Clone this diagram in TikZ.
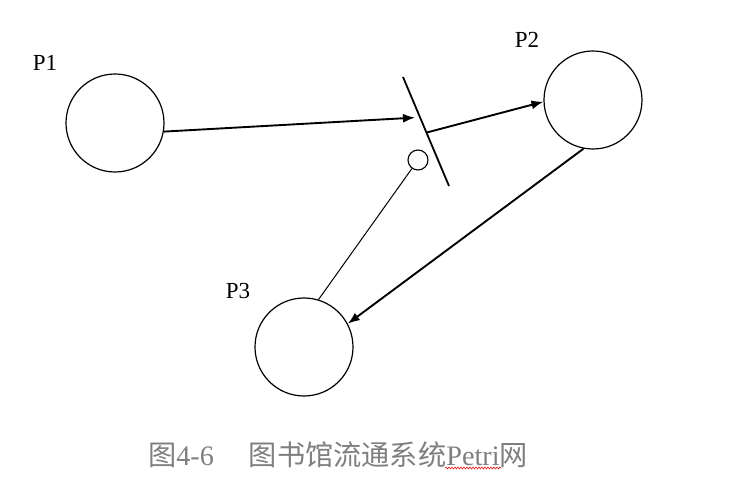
\documentclass[tikz,border=0pt]{standalone}
\usepackage{fontspec}
\setmainfont{Liberation Serif}
\newfontfamily\cjk{Noto Sans CJK SC}
\usetikzlibrary{arrows.meta,calc,decorations.pathmorphing}
\definecolor{cap}{HTML}{7F7F7F}
\definecolor{spell}{HTML}{E02020}
\tikzset{
  place/.style={draw,circle,line width=1.2pt,minimum size=98pt,inner sep=0pt},
  inhib/.style={draw,circle,line width=1.1pt,minimum size=20pt,inner sep=0pt},
  lbl/.style={font=\fontsize{23}{23}\selectfont},
  ar/.style={-{Latex[length=12pt,width=9pt]},line width=1.9pt},
}
\begin{document}
\begin{tikzpicture}[x=1pt,y=-1pt]
\useasboundingbox (0,0) rectangle (731,478);
\node[place] (p1) at (115,123) {};
\node[place] (p2) at (593,100) {};
\node[place] (p3) at (304,347) {};
\node[lbl] (l1) at (45,63) {P1};
\node[lbl] (l2) at (527,40) {P2};
\node[lbl] (l3) at (238,291) {P3};
% transition bar
\coordinate (t1) at (403,77);
\coordinate (t2) at (449,186);
\draw[line width=1.8pt] (t1) -- (t2);
\coordinate (tin) at ($(t1)!0.37!(t2)$);
\coordinate (tout) at ($(t1)!0.51!(t2)$);
\node[inhib] (inh) at (418,160) {};
\draw[ar,shorten >=5pt] (p1.-10) -- (tin);
\draw[ar] (tout) -- (p2.182);
\draw[ar] (p2.259) -- (p3.28);
\draw[line width=1pt] (p3.73) -- (inh);
% caption
\node[text=cap,font=\fontsize{28.2}{28.2}\selectfont] (cp) at (338,455)
  {{\cjk 图}4-6\hspace{35pt}{\cjk 图书馆流通系统}Petri{\cjk 网}};
\coordinate (w1) at (445,468);
\coordinate (w2) at (501,468);
\draw[spell,line width=0.6pt,decorate,decoration={snake,amplitude=1pt,segment length=3pt}] (w1) -- (w2);
\end{tikzpicture}
\end{document}
